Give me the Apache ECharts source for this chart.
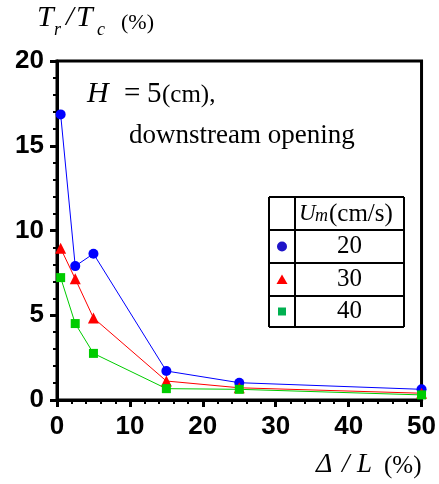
<!DOCTYPE html>
<html>
<head>
<meta charset="utf-8">
<script src="https://cdn.jsdelivr.net/npm/echarts@6/dist/echarts.min.js"></script>
<style>
html,body{margin:0;padding:0;background:#fff;}
#c{width:439px;height:484px;}
</style>
</head>
<body>
<div id="c"></div>
<script>
// Data
const xValues = [0.5, 2.5, 5, 15, 25, 50];          // Δ/L (%)
const um20 = [16.85, 7.9, 8.63, 1.71, 1.02, 0.63];   // Um = 20 cm/s
const um30 = [8.95, 7.15, 4.84, 1.12, 0.72, 0.4];    // Um = 30 cm/s
const um40 = [7.22, 4.51, 2.75, 0.67, 0.63, 0.3];    // Um = 40 cm/s
const legendLabels = ['20', '30', '40'];
const xTicks = [0, 10, 20, 30, 40, 50];
const yTicks = [0, 5, 10, 15, 20];

const serif = 'Liberation Serif';
const sans = 'Liberation Sans';
const colors = ['#0000ff', '#ff0000', '#00cc00'];

function pairs(ys) { return xValues.map((x, i) => [x, ys[i]]); }

const chart = echarts.init(document.getElementById('c'));

const axisCommon = {
  axisLine: { show: true, lineStyle: { color: '#000', width: 3 } },
  axisTick: { show: true, inside: false, length: 7, lineStyle: { color: '#000', width: 3 } },
  minorTick: { show: true, splitNumber: 5, length: 4, lineStyle: { color: '#000', width: 2 } },
  splitLine: { show: false },
  minorSplitLine: { show: false }
};

// Legend table (decoration)
const tL = 269, tR = 404, tT = 197, tB = 327, tC = 295;
const rows = [230, 263, 296];
const tableLines = [];
[tT, ...rows, tB].forEach(y => tableLines.push({ type: 'line', shape: { x1: tL, y1: y, x2: tR, y2: y }, style: { stroke: '#000', lineWidth: 2 } }));
[tL, tC, tR].forEach(x => tableLines.push({ type: 'line', shape: { x1: x, y1: tT, x2: x, y2: tB }, style: { stroke: '#000', lineWidth: 2 } }));
const rowC = [246.5, 279.5, 311.5];
const legendGraphics = [
  { type: 'circle', shape: { cx: 282, cy: rowC[0], r: 5 }, style: { fill: '#1f14c8' } },
  { type: 'polygon', shape: { points: [[282, rowC[1] - 5], [287.5, rowC[1] + 4.5], [276.5, rowC[1] + 4.5]] }, style: { fill: '#ff0000' } },
  { type: 'rect', shape: { x: 278, y: rowC[2] - 4, width: 8, height: 8 }, style: { fill: '#00b050' } }
];
legendLabels.forEach((t, i) => legendGraphics.push({
  type: 'text', style: { text: t, x: 349.5, y: rowC[i], align: 'center', verticalAlign: 'middle', font: '25px ' + serif, fill: '#000' }
}));
legendGraphics.push(
  { type: 'text', style: { text: 'U', x: 299, y: 214, verticalAlign: 'middle', font: 'italic 23px ' + serif, fill: '#000' } },
  { type: 'text', style: { text: 'm', x: 315, y: 216, verticalAlign: 'middle', font: 'italic 18px ' + serif, fill: '#000' } },
  { type: 'text', style: { text: '(cm/s)', x: 329, y: 214, verticalAlign: 'middle', font: '25px ' + serif, fill: '#000' } }
);

const textGraphics = [
  // y-axis title  T_r / T_c (%)
  { type: 'text', style: { text: 'T', x: 37, y: 18, verticalAlign: 'middle', font: 'italic 30px ' + serif, fill: '#000' } },
  { type: 'text', style: { text: 'r', x: 54, y: 30, verticalAlign: 'middle', font: 'italic 18px ' + serif, fill: '#000' } },
  { type: 'text', style: { text: '/', x: 66, y: 18, verticalAlign: 'middle', font: 'italic 28px ' + serif, fill: '#000' } },
  { type: 'text', style: { text: 'T', x: 76, y: 18, verticalAlign: 'middle', font: 'italic 30px ' + serif, fill: '#000' } },
  { type: 'text', style: { text: 'c', x: 97, y: 30, verticalAlign: 'middle', font: 'italic 18px ' + serif, fill: '#000' } },
  { type: 'text', style: { text: '(%)', x: 121, y: 23, verticalAlign: 'middle', font: '22px ' + serif, fill: '#000' } },
  // annotation
  { type: 'text', style: { text: 'H', x: 87, y: 94, verticalAlign: 'middle', font: 'italic 30px ' + serif, fill: '#000' } },
  { type: 'text', style: { text: '=', x: 124, y: 94, verticalAlign: 'middle', font: '29px ' + serif, fill: '#000' } },
  { type: 'text', style: { text: '5', x: 147, y: 94, verticalAlign: 'middle', font: '29px ' + serif, fill: '#000' } },
  { type: 'text', style: { text: '(cm),', x: 162, y: 95, verticalAlign: 'middle', font: '25px ' + serif, fill: '#000' } },
  { type: 'text', style: { text: 'downstream opening', x: 129, y: 136, verticalAlign: 'middle', font: '27px ' + serif, fill: '#000' } },
  // x-axis title  Δ/L (%)
  { type: 'text', style: { text: 'Δ', x: 316, y: 465, verticalAlign: 'middle', font: 'italic 28px ' + serif, fill: '#000' } },
  { type: 'text', style: { text: '/', x: 342, y: 465, verticalAlign: 'middle', font: 'italic 27px ' + serif, fill: '#000' } },
  { type: 'text', style: { text: 'L', x: 357, y: 465, verticalAlign: 'middle', font: 'italic 27px ' + serif, fill: '#000' } },
  { type: 'text', style: { text: '(%)', x: 384, y: 466, verticalAlign: 'middle', font: '25px ' + serif, fill: '#000' } }
];

function mk(name, data, symbol, size, color) {
  return {
    name, type: 'line', data: pairs(data), symbol, symbolSize: size, clip: false,
    lineStyle: { color, width: 1 }, itemStyle: { color }, emphasis: { disabled: true }, z: 5
  };
}

chart.setOption({
  animation: false,
  backgroundColor: '#fff',
  grid: { left: 57, right: 15, top: 61, bottom: 84, show: true, borderColor: '#000', borderWidth: 3, backgroundColor: 'transparent' },
  xAxis: Object.assign({
    type: 'value', min: xTicks[0], max: xTicks[xTicks.length - 1], interval: 10,
    axisLabel: { color: '#000', fontFamily: sans, fontWeight: 'bold', fontSize: 26, margin: 14 }
  }, axisCommon),
  yAxis: Object.assign({
    type: 'value', min: yTicks[0], max: yTicks[yTicks.length - 1], interval: 5,
    axisLabel: { color: '#000', fontFamily: sans, fontWeight: 'bold', fontSize: 26, margin: 13 }
  }, axisCommon),
  series: [
    mk('20', um20, 'circle', 10, colors[0]),
    mk('30', um30, 'triangle', 11, colors[1]),
    mk('40', um40, 'rect', 9, colors[2])
  ],
  graphic: [...tableLines, ...legendGraphics, ...textGraphics]
});
</script>
</body>
</html>
